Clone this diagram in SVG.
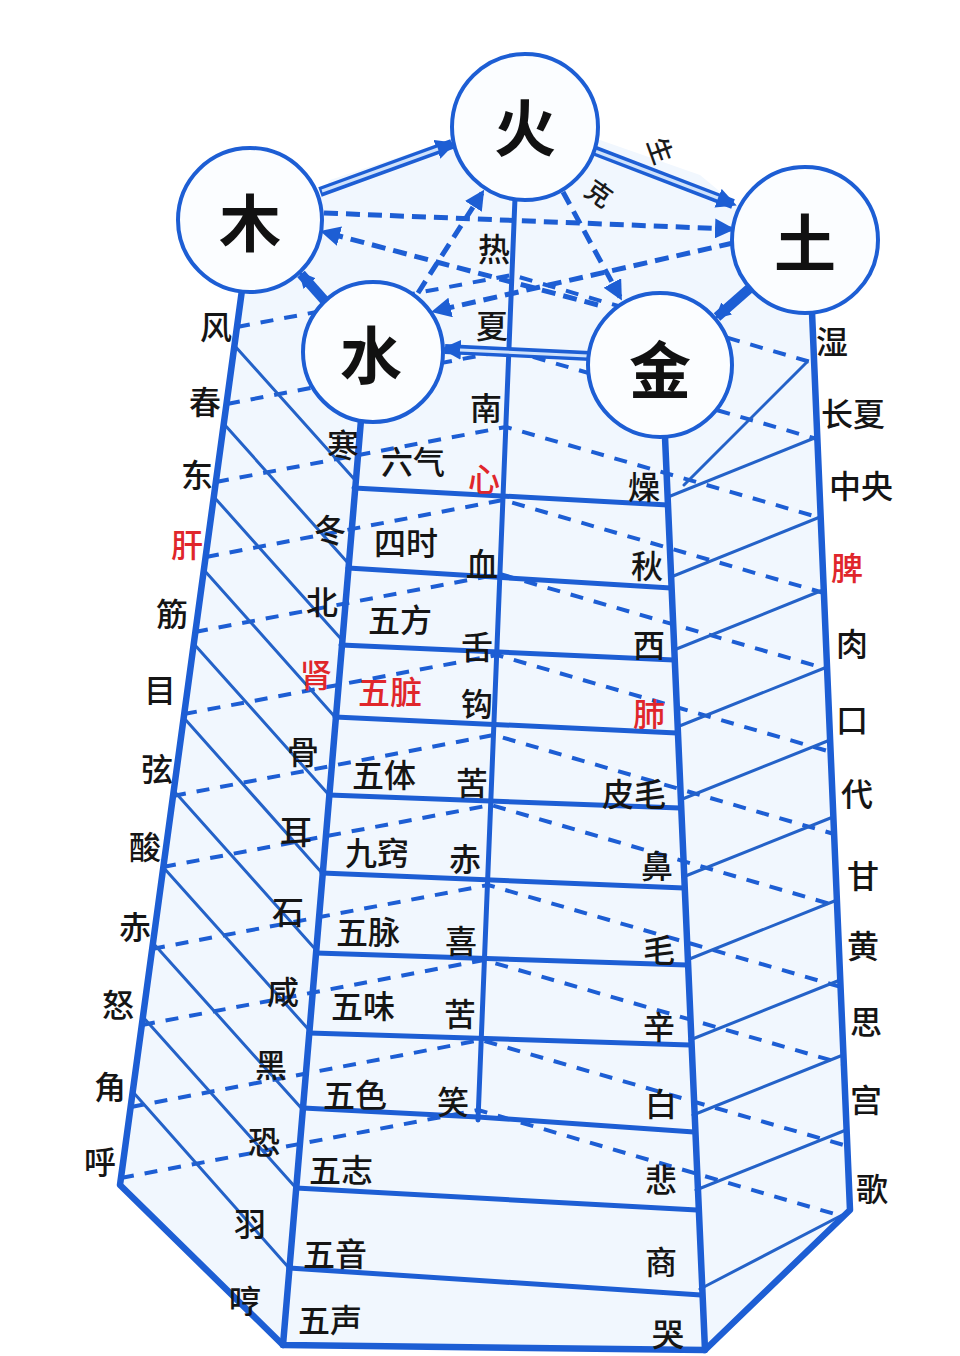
<svg xmlns="http://www.w3.org/2000/svg" width="960" height="1356" viewBox="0 0 960 1356">
<style>
.main{fill:none;stroke:#1d5ed4;stroke-width:6.5;stroke-linecap:round;stroke-linejoin:round}
.rung{fill:none;stroke:#1d5ed4;stroke-width:5;stroke-linecap:round}
.diag{fill:none;stroke:#2462c8;stroke-width:3;stroke-linecap:round}
.dash{fill:none;stroke:#1d5ed4;stroke-width:4;stroke-dasharray:13 11;stroke-linejoin:round}
.ke{fill:none;stroke:#1d5ed4;stroke-width:5;stroke-dasharray:14 8}
.sheng{fill:none;stroke:#1d5ed4;stroke-width:10;stroke-linecap:butt}
.shengIn{fill:none;stroke:#cfe2fb;stroke-width:3}
.circ{fill:#fbfdff;stroke:#1d5ed4;stroke-width:4}
.big{font-family:"Noto Sans CJK SC","Noto Sans CJK JP",sans-serif;font-size:62px;font-weight:bold;fill:#111;text-anchor:middle;dominant-baseline:central}
.lb{font-family:"Noto Sans CJK SC","Noto Sans CJK JP",sans-serif;font-size:32px;font-weight:500;fill:#151515;text-anchor:middle;dominant-baseline:central}
.red{fill:#e0262b}
.sm{font-family:"Noto Sans CJK SC","Noto Sans CJK JP",sans-serif;font-size:26px;font-weight:500;fill:#1a1a1a;text-anchor:middle;dominant-baseline:central}
</style>
<defs>
<marker id="ah" viewBox="0 0 10 10" refX="8" refY="5" markerUnits="userSpaceOnUse" markerWidth="20" markerHeight="20" orient="auto-start-reverse">
<path d="M0,0 L10,5 L0,10 z" fill="#1d5ed4"/>
</marker>
<marker id="ahs" viewBox="0 0 10 10" refX="8" refY="5" markerUnits="userSpaceOnUse" markerWidth="16" markerHeight="16" orient="auto-start-reverse">
<path d="M0,0 L10,5 L0,10 z" fill="#1d5ed4"/>
</marker>
</defs>
<rect width="960" height="1356" fill="#ffffff"/>
<polygon points="242,290 120,1185 283,1345 705,1350 850,1210 812,312 790,250 700,175 600,140 450,140 330,180 300,230" fill="#f1f7fe"/>

<g id="connectors">
  <g id="dashed-rows">
    <polyline class="dash" points="237,327 512,275 814,363"/>
    <polyline class="dash" points="227,404 509,350 817,439"/>
    <polyline class="dash" points="216,482 506,427 821,518"/>
    <polyline class="dash" points="206,557 503,500 824,593"/>
    <polyline class="dash" points="195,632 500,574 827,669"/>
    <polyline class="dash" points="184,714 497,655 831,752"/>
    <polyline class="dash" points="173,796 494,735 834,834"/>
    <polyline class="dash" points="163,867 491,805 837,906"/>
    <polyline class="dash" points="152,949 488,885 841,987"/>
    <polyline class="dash" points="142,1025 484,960 844,1064"/>
    <polyline class="dash" points="131,1107 481,1040 847,1146"/>
    <polyline class="dash" points="121,1178 478,1110 845,1217"/>
  </g>
  <g id="left-diagonals">
    <line class="diag" x1="234" y1="345" x2="355" y2="480"/>
    <line class="diag" x1="224" y1="424" x2="348" y2="563"/>
    <line class="diag" x1="214" y1="497" x2="342" y2="640"/>
    <line class="diag" x1="204" y1="570" x2="335" y2="717"/>
    <line class="diag" x1="194" y1="644" x2="329" y2="795"/>
    <line class="diag" x1="184" y1="718" x2="322" y2="873"/>
    <line class="diag" x1="174" y1="791" x2="316" y2="950"/>
    <line class="diag" x1="163" y1="867" x2="309" y2="1030"/>
    <line class="diag" x1="153" y1="943" x2="303" y2="1110"/>
    <line class="diag" x1="143" y1="1017" x2="296" y2="1188"/>
    <line class="diag" x1="133" y1="1092" x2="289" y2="1268"/>
  </g>
  <g id="right-diagonals">
    <line class="diag" x1="684" y1="485" x2="807" y2="362"/>
    <line class="diag" x1="668" y1="497" x2="817" y2="437"/>
    <line class="diag" x1="671" y1="577" x2="820" y2="517"/>
    <line class="diag" x1="674" y1="650" x2="823" y2="590"/>
    <line class="diag" x1="677" y1="727" x2="827" y2="667"/>
    <line class="diag" x1="680" y1="800" x2="830" y2="740"/>
    <line class="diag" x1="683" y1="877" x2="833" y2="817"/>
    <line class="diag" x1="687" y1="960" x2="837" y2="900"/>
    <line class="diag" x1="690" y1="1040" x2="840" y2="980"/>
    <line class="diag" x1="693" y1="1115" x2="843" y2="1055"/>
    <line class="diag" x1="696" y1="1190" x2="846" y2="1130"/>
    <line class="diag" x1="700" y1="1289" x2="848" y2="1212"/>
  </g>
  <g id="rungs">
    <line class="rung" x1="354" y1="488" x2="668" y2="505"/>
    <line class="rung" x1="348" y1="568" x2="671" y2="588"/>
    <line class="rung" x1="341" y1="645" x2="674" y2="660"/>
    <line class="rung" x1="335" y1="717" x2="677" y2="733"/>
    <line class="rung" x1="329" y1="795" x2="680" y2="808"/>
    <line class="rung" x1="322" y1="873" x2="684" y2="888"/>
    <line class="rung" x1="316" y1="953" x2="687" y2="965"/>
    <line class="rung" x1="309" y1="1033" x2="690" y2="1045"/>
    <polyline class="rung" points="303,1108 478,1117 694,1132"/>
    <line class="rung" x1="296" y1="1188" x2="697" y2="1210"/>
    <line class="rung" x1="289" y1="1268" x2="701" y2="1295"/>
  </g>
  <g id="frame">
    <polyline class="main" points="242,290 120,1185 283,1345 705,1350 850,1210 812,312"/>
    <line class="main" x1="361" y1="420" x2="283" y2="1345"/>
    <line class="main" x1="665" y1="437" x2="705" y2="1350"/>
    <line class="rung" x1="515" y1="198" x2="478" y2="1120"/>
  </g>
  <g id="ke-cycle">
    <line class="ke" x1="324" y1="213" x2="731" y2="229" marker-end="url(#ah)"/>
    <line class="ke" x1="733" y1="243" x2="435" y2="311" marker-end="url(#ah)"/>
    <line class="ke" x1="418" y1="293" x2="482" y2="193" marker-end="url(#ah)"/>
    <line class="ke" x1="563" y1="192" x2="620" y2="297" marker-end="url(#ah)"/>
    <line class="ke" x1="598" y1="305" x2="324" y2="232" marker-end="url(#ah)"/>
  </g>
  <g id="sheng-cycle">
    <line class="sheng" x1="320" y1="192" x2="452" y2="144" marker-end="url(#ah)"/>
    <line class="shengIn" x1="322" y1="191" x2="438" y2="149"/>
    <line class="sheng" x1="593" y1="150" x2="733" y2="204" marker-end="url(#ah)"/>
    <line class="shengIn" x1="595" y1="151" x2="718" y2="198"/>
    <line class="sheng" x1="750" y1="288" x2="717" y2="317" marker-end="url(#ahs)"/>
    <line class="sheng" x1="590" y1="356" x2="445" y2="349" marker-end="url(#ah)"/>
    <line class="shengIn" x1="588" y1="356" x2="460" y2="350"/>
    <line class="sheng" x1="325" y1="301" x2="301" y2="274" marker-end="url(#ahs)"/>
  </g>
</g>

<g id="node-huo"><circle class="circ" cx="525" cy="127" r="73"/><text class="big" x="525" y="125">火</text></g>
<g id="node-mu"><circle class="circ" cx="250" cy="220" r="72"/><text class="big" x="250" y="220">木</text></g>
<g id="node-tu"><circle class="circ" cx="805" cy="240" r="73"/><text class="big" x="805" y="240">土</text></g>
<g id="node-shui"><circle class="circ" cx="373" cy="352" r="70"/><text class="big" x="371" y="352">水</text></g>
<g id="node-jin"><circle class="circ" cx="660" cy="365" r="72"/><text class="big" x="660" y="367">金</text></g>

<g id="cycle-labels">
  <text class="sm" transform="translate(662,150) rotate(70)">生</text>
  <text class="sm" transform="translate(600,192) rotate(35)">克</text>
</g>

<g id="col-mu">
  <text class="lb" x="216" y="325">风</text>
  <text class="lb" x="205" y="400">春</text>
  <text class="lb" x="197" y="473">东</text>
  <text class="lb red" x="187" y="543">肝</text>
  <text class="lb" x="172" y="612">筋</text>
  <text class="lb" x="160" y="688">目</text>
  <text class="lb" x="157" y="767">弦</text>
  <text class="lb" x="145" y="845">酸</text>
  <text class="lb" x="135" y="925">赤</text>
  <text class="lb" x="118" y="1003">怒</text>
  <text class="lb" x="110" y="1085">角</text>
  <text class="lb" x="100" y="1160">呼</text>
</g>
<g id="col-shui">
  <text class="lb" x="343" y="443">寒</text>
  <text class="lb" x="330" y="528">冬</text>
  <text class="lb" x="322" y="600">北</text>
  <text class="lb red" x="316" y="673">肾</text>
  <text class="lb" x="303" y="750">骨</text>
  <text class="lb" x="296" y="830">耳</text>
  <text class="lb" x="288" y="910">石</text>
  <text class="lb" x="283" y="990">咸</text>
  <text class="lb" x="271" y="1063">黑</text>
  <text class="lb" x="264" y="1140">恐</text>
  <text class="lb" x="250" y="1222">羽</text>
  <text class="lb" x="245" y="1299">哼</text>
</g>
<g id="col-names">
  <text class="lb" x="413" y="460">六气</text>
  <text class="lb" x="406" y="541">四时</text>
  <text class="lb" x="400" y="618">五方</text>
  <text class="lb red" x="390" y="690">五脏</text>
  <text class="lb" x="384" y="773">五体</text>
  <text class="lb" x="377" y="851">九窍</text>
  <text class="lb" x="368" y="930">五脉</text>
  <text class="lb" x="363" y="1004">五味</text>
  <text class="lb" x="355" y="1093">五色</text>
  <text class="lb" x="341" y="1168">五志</text>
  <text class="lb" x="335" y="1252">五音</text>
  <text class="lb" x="330" y="1318">五声</text>
</g>
<g id="col-huo">
  <text class="lb" x="494" y="247">热</text>
  <text class="lb" x="492" y="324">夏</text>
  <text class="lb" x="486" y="406">南</text>
  <text class="lb red" x="484" y="477">心</text>
  <text class="lb" x="482" y="562">血</text>
  <text class="lb" x="477" y="645">舌</text>
  <text class="lb" x="477" y="702">钩</text>
  <text class="lb" x="472" y="781">苦</text>
  <text class="lb" x="465" y="857">赤</text>
  <text class="lb" x="461" y="939">喜</text>
  <text class="lb" x="460" y="1012">苦</text>
  <text class="lb" x="453" y="1100">笑</text>
</g>
<g id="col-jin">
  <text class="lb" x="644" y="485">燥</text>
  <text class="lb" x="647" y="564">秋</text>
  <text class="lb" x="649" y="643">西</text>
  <text class="lb red" x="649" y="712">肺</text>
  <text class="lb" x="634" y="792">皮毛</text>
  <text class="lb" x="657" y="864">鼻</text>
  <text class="lb" x="659" y="948">毛</text>
  <text class="lb" x="659" y="1025">辛</text>
  <text class="lb" x="661" y="1102">白</text>
  <text class="lb" x="661" y="1178">悲</text>
  <text class="lb" x="661" y="1260">商</text>
  <text class="lb" x="668" y="1332">哭</text>
</g>
<g id="col-tu">
  <text class="lb" x="832" y="340">湿</text>
  <text class="lb" x="853" y="412">长夏</text>
  <text class="lb" x="861" y="484">中央</text>
  <text class="lb red" x="847" y="566">脾</text>
  <text class="lb" x="852" y="642">肉</text>
  <text class="lb" x="852" y="718">口</text>
  <text class="lb" x="857" y="792">代</text>
  <text class="lb" x="863" y="874">甘</text>
  <text class="lb" x="863" y="944">黄</text>
  <text class="lb" x="866" y="1020">思</text>
  <text class="lb" x="866" y="1098">宫</text>
  <text class="lb" x="872" y="1187">歌</text>
</g>
</svg>
